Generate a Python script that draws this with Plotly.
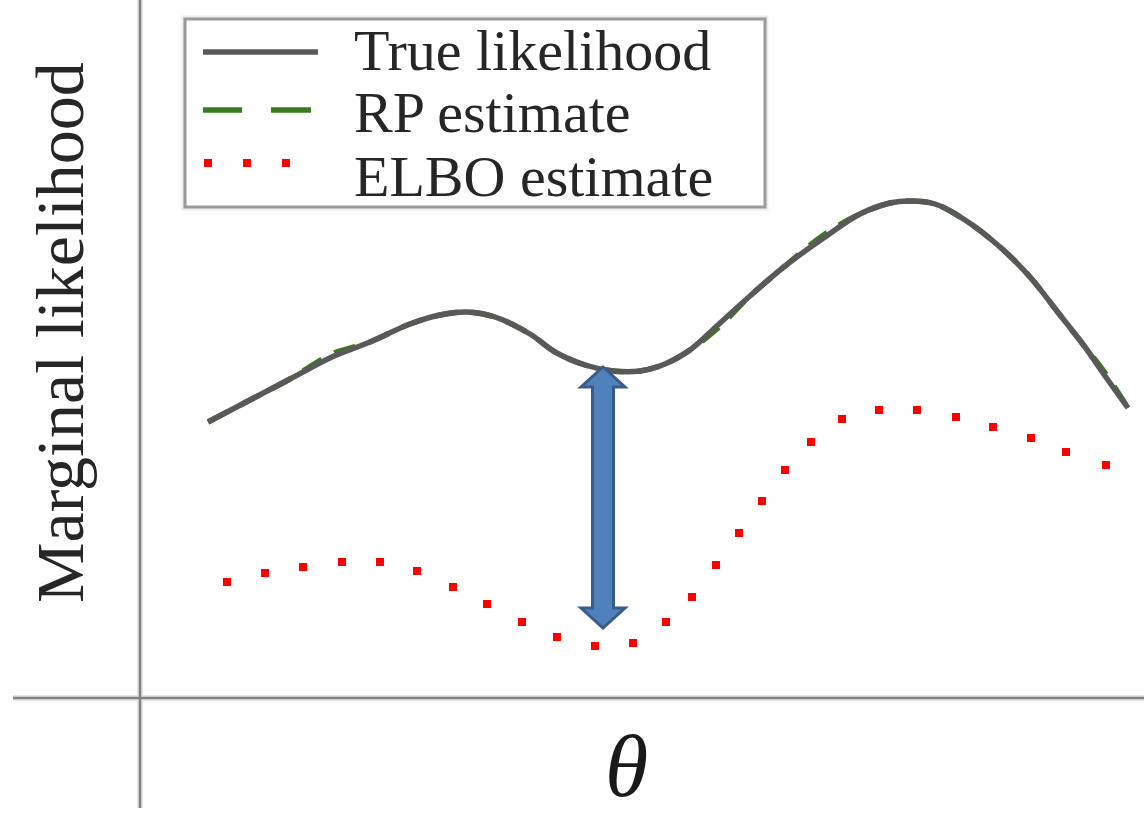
import numpy as np
import plotly.graph_objects as go

# ---- data (theta measured from the vertical axis, height above the theta axis) ----
true_theta = [68, 110, 150, 192, 230, 270, 300, 327, 355, 390, 415, 445, 473, 500,
              525, 550, 578, 610, 645, 685, 720, 750, 770, 795, 825, 860, 890, 920,
              945, 963, 988]
true_like = [276, 298, 319, 341, 356, 374, 383, 386, 381, 364, 346, 333, 327, 327,
             334, 348, 373, 402, 432, 461, 484, 495, 497, 494, 478, 451, 421, 383,
             351, 325, 290]

rp_theta = true_theta
rp_est = [276, 298, 319, 344, 356, 374, 383, 386, 381, 364, 346, 333, 327, 327,
          334, 348, 370, 402, 432, 464, 484, 495, 497, 494, 478, 451, 421, 383,
          351, 328, 290]

elbo_theta = [87, 125, 163, 202, 240, 277, 313, 347, 382, 417, 455, 493, 526, 552,
              576, 599, 622, 645, 671, 702, 739, 777, 816, 853, 891, 926, 966]
elbo_est = [116, 125, 131, 136, 136, 127, 111, 94, 76, 61, 52, 55, 76, 101, 133,
            165, 197, 228, 256, 279, 288, 288, 281, 271, 260, 246, 233]

series_names = ["True likelihood", "RP estimate", "ELBO estimate"]
y_title = "Marginal likelihood"
x_title = "θ"

# gap indicator (double arrow)
ARROW_THETA = 463
ARROW_TOP = 331
ARROW_BOTTOM = 70

GRAY = "#595959"
GREEN = "#3b7a1e"
RED = "#ff0000"
FONT = "Liberation Serif"

fig = go.Figure()

fig.add_trace(go.Scatter(x=rp_theta, y=rp_est, mode="lines", name=series_names[1],
                         line=dict(color=GREEN, width=5.5, dash="22px,14px", shape="spline"),
                         showlegend=False, hoverinfo="skip"))
fig.add_trace(go.Scatter(x=true_theta, y=true_like, mode="lines", name=series_names[0],
                         line=dict(color=GRAY, width=5.5, shape="spline"),
                         showlegend=False, hoverinfo="skip"))
fig.add_trace(go.Scatter(x=elbo_theta, y=elbo_est, mode="markers", name=series_names[2],
                         marker=dict(color=RED, size=8, symbol="square", line=dict(width=0)),
                         showlegend=False, hoverinfo="skip"))

shapes = []
# axes (light halo + darker core)
for col, w in (("#e4e4e4", 6), ("#828282", 2.5)):
    shapes.append(dict(type="line", xref="x", yref="y", x0=-127, x1=1004, y0=0, y1=0,
                       line=dict(color=col, width=w), layer="below"))
    shapes.append(dict(type="line", xref="x", yref="y", x0=0, x1=0, y0=-110, y1=698,
                       line=dict(color=col, width=w), layer="below"))

# double arrow
x = ARROW_THETA
hl, hw, sw = 20, 22, 10.5
t, b = ARROW_TOP, ARROW_BOTTOM
path = (f"M {x},{t} L {x+hw},{t-hl} L {x+sw},{t-hl} L {x+sw},{b+hl} L {x+hw},{b+hl} "
        f"L {x},{b} L {x-hw},{b+hl} L {x-sw},{b+hl} L {x-sw},{t-hl} L {x-hw},{t-hl} Z")
shapes.append(dict(type="path", xref="x", yref="y", path=path,
                   fillcolor="#4f81bd", line=dict(color="#385d8a", width=3)))

# legend box
shapes.append(dict(type="rect", xref="x", yref="y", x0=45, x1=625, y0=491, y1=679,
                   line=dict(color="#ececec", width=7), fillcolor="rgba(0,0,0,0)"))
shapes.append(dict(type="rect", xref="x", yref="y", x0=45, x1=625, y0=491, y1=679,
                   line=dict(color="#9a9a9a", width=3), fillcolor="white"))
# legend samples
shapes.append(dict(type="line", xref="x", yref="y", x0=63, x1=178, y0=646, y1=646,
                   line=dict(color=GRAY, width=5.5)))
for a, c in ((63, 102), (131, 171)):
    shapes.append(dict(type="line", xref="x", yref="y", x0=a, x1=c, y0=588, y1=588,
                       line=dict(color=GREEN, width=5.5)))
for cx in (68, 107, 146):
    shapes.append(dict(type="rect", xref="x", yref="y", x0=cx - 4, x1=cx + 4,
                       y0=531, y1=539, fillcolor=RED, line=dict(width=0)))

annotations = []
for name, yy in zip(series_names, (648, 586, 522)):
    annotations.append(dict(x=212, y=yy, xref="x", yref="y", text=name, showarrow=False,
                            xanchor="left", yanchor="middle",
                            font=dict(family=FONT, size=58, color="#262626")))
annotations.append(dict(x=-80, y=365, xref="x", yref="y", text=y_title, showarrow=False,
                        textangle=-90, xanchor="center", yanchor="middle",
                        font=dict(family=FONT, size=68, color="#262626")))
annotations.append(dict(x=486, y=-118, xref="x", yref="y", text=f"<i>{x_title}</i>",
                        showarrow=False, xanchor="center", yanchor="bottom", borderpad=0,
                        font=dict(family=FONT, size=88, color="#1a1a1a")))

fig.update_layout(
    width=1144, height=816, autosize=False,
    margin=dict(l=0, r=0, t=0, b=0, pad=0),
    paper_bgcolor="white", plot_bgcolor="white",
    xaxis=dict(range=[-140, 1004], visible=False, fixedrange=True),
    yaxis=dict(range=[-118, 698], visible=False, fixedrange=True),
    shapes=shapes, annotations=annotations, showlegend=False,
)

fig.write_html("out.html", config={"displayModeBar": False},
               post_script="document.body.style.margin='0px';document.body.style.overflow='hidden';")
